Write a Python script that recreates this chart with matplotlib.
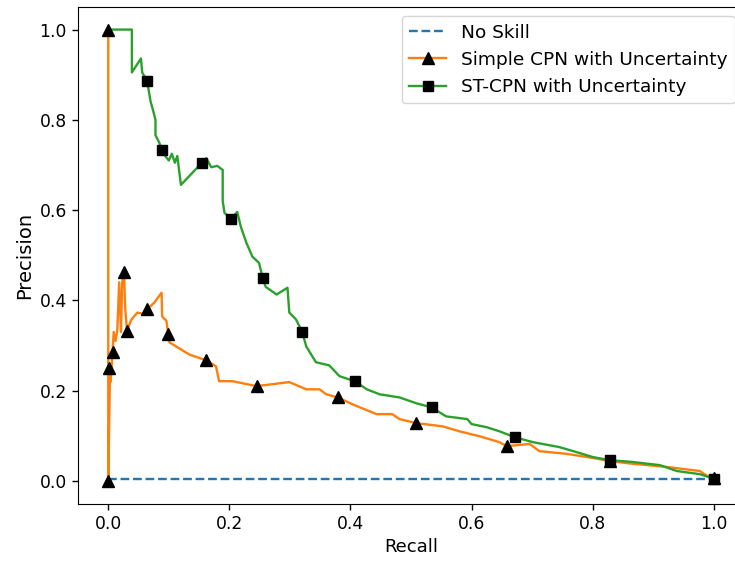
import matplotlib.pyplot as plt
from matplotlib.lines import Line2D

# No skill baseline (fraction of positives)
no_skill = 0.005

# Simple CPN with Uncertainty
simple_recall = [0.0, 0.0, 0.002, 0.003, 0.004, 0.007, 0.009, 0.012, 0.015, 0.018, 0.021, 0.023,
                 0.026, 0.028, 0.031, 0.038, 0.048, 0.058, 0.064, 0.076, 0.088, 0.089, 0.096,
                 0.099, 0.101, 0.112, 0.134, 0.162, 0.178, 0.183, 0.205, 0.245, 0.299, 0.327,
                 0.349, 0.36, 0.379, 0.403, 0.443, 0.469, 0.481, 0.509, 0.552, 0.58, 0.613,
                 0.646, 0.658, 0.696, 0.712, 0.757, 0.8, 0.828, 0.866, 0.922, 0.977, 0.988, 1.0]
simple_precision = [1.0, 0.0, 0.17, 0.25, 0.22, 0.285, 0.33, 0.31, 0.335, 0.44, 0.33, 0.44,
                    0.462, 0.38, 0.333, 0.357, 0.373, 0.37, 0.38, 0.395, 0.417, 0.364, 0.355,
                    0.325, 0.307, 0.298, 0.28, 0.267, 0.254, 0.221, 0.221, 0.21, 0.219, 0.203,
                    0.203, 0.192, 0.185, 0.17, 0.148, 0.148, 0.137, 0.128, 0.121, 0.11, 0.099,
                    0.086, 0.077, 0.082, 0.066, 0.06, 0.051, 0.044, 0.038, 0.031, 0.022, 0.012, 0.007]
simple_mark_r = [0.0, 0.0, 0.002, 0.007, 0.026, 0.031, 0.064, 0.099, 0.162, 0.245, 0.379,
                 0.509, 0.658, 0.828, 1.0]
simple_mark_p = [0.0, 1.0, 0.25, 0.285, 0.462, 0.333, 0.38, 0.325, 0.267, 0.21, 0.185,
                 0.128, 0.077, 0.044, 0.007]

# ST-CPN with Uncertainty
st_recall = [0.0, 0.039, 0.039, 0.054, 0.056, 0.064, 0.07, 0.073, 0.078, 0.078, 0.084, 0.089,
             0.094, 0.1, 0.105, 0.11, 0.114, 0.12, 0.154, 0.162, 0.17, 0.18, 0.189, 0.189,
             0.192, 0.203, 0.213, 0.219, 0.228, 0.238, 0.249, 0.255, 0.26, 0.278, 0.296,
             0.299, 0.31, 0.32, 0.327, 0.343, 0.365, 0.382, 0.407, 0.427, 0.448, 0.481,
             0.509, 0.534, 0.558, 0.593, 0.6, 0.625, 0.646, 0.671, 0.701, 0.745, 0.773,
             0.8, 0.828, 0.866, 0.911, 0.939, 0.977, 1.0]
st_precision = [1.0, 1.0, 0.905, 0.936, 0.905, 0.887, 0.84, 0.826, 0.80, 0.766, 0.75, 0.733,
                0.72, 0.71, 0.725, 0.705, 0.72, 0.656, 0.704, 0.715, 0.695, 0.698, 0.689, 0.62,
                0.594, 0.581, 0.596, 0.563, 0.528, 0.497, 0.483, 0.45, 0.43, 0.413, 0.428,
                0.373, 0.358, 0.331, 0.298, 0.263, 0.256, 0.232, 0.221, 0.203, 0.192, 0.185,
                0.172, 0.163, 0.143, 0.137, 0.126, 0.119, 0.11, 0.097, 0.086, 0.075, 0.064,
                0.053, 0.046, 0.042, 0.035, 0.022, 0.015, 0.005]
st_mark_r = [0.064, 0.089, 0.154, 0.203, 0.255, 0.32, 0.407, 0.534, 0.671, 0.828, 1.0]
st_mark_p = [0.887, 0.733, 0.704, 0.581, 0.45, 0.331, 0.221, 0.163, 0.097, 0.046, 0.005]

lw = 1.7

fig = plt.figure(figsize=(7.35, 5.64), dpi=100)
ax = fig.add_axes([78 / 735, 60.5 / 564, 666 / 735, 496.5 / 564])

ax.plot([0, 1], [no_skill, no_skill], linestyle='--', color='C0', lw=lw)
ax.plot(simple_recall, simple_precision, color='C1', lw=lw)
ax.plot(st_recall, st_precision, color='C2', lw=lw)
ax.plot(simple_mark_r, simple_mark_p, '^', color='k', ms=8, linestyle='none')
ax.plot(st_mark_r, st_mark_p, 's', color='k', ms=7.5, linestyle='none')

ax.set_xlim(-0.05, 1.05)
ax.set_ylim(-0.05, 1.05)
ax.set_xlabel('Recall', fontsize=13.1)
ax.set_ylabel('Precision', fontsize=14)
ax.tick_params(length=4.5, width=1, labelsize=12.3)

handles = [
    Line2D([], [], linestyle='--', color='C0', lw=lw),
    Line2D([], [], color='C1', lw=lw, marker='^', mfc='k', mec='k', ms=8),
    Line2D([], [], color='C2', lw=lw, marker='s', mfc='k', mec='k', ms=7.5),
]
labels = ['No Skill', 'Simple CPN with Uncertainty', 'ST-CPN with Uncertainty']
ax.legend(handles, labels, loc='upper right', fontsize=13.3)

fig.savefig('out.png', dpi=100)
